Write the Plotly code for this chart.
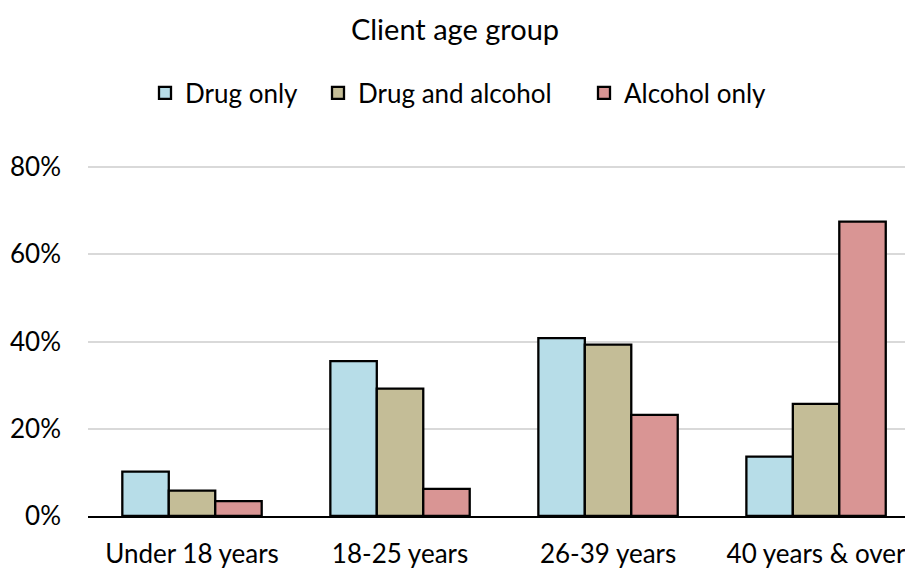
import plotly.graph_objects as go

categories = ["Under 18 years", "18-25 years", "26-39 years", "40 years & over"]
drug_only = [10.2, 35.5, 40.8, 13.6]
drug_and_alcohol = [5.8, 29.2, 39.3, 25.7]
alcohol_only = [3.4, 6.2, 23.2, 67.5]
series_names = ["Drug only", "Drug and alcohol", "Alcohol only"]
colors = ["#B7DDE8", "#C4BD97", "#D99594"]
y_ticks = [0, 20, 40, 60, 80]
y_tick_labels = ["0%", "20%", "40%", "60%", "80%"]

FONT = "Lato"
# page has an 8px body margin; figure is sized/offset to compensate
W, H = 905, 560
L, T, B = 80, 157, 52
plot_w = W - L

legend_ids = ["legend", "legend2", "legend3"]
legend_square_left = [150, 323, 589]  # figure px

fig = go.Figure()
for name, vals, col, lg in zip(series_names, [drug_only, drug_and_alcohol, alcohol_only], colors, legend_ids):
    fig.add_trace(go.Bar(
        name=name, x=categories, y=vals,
        marker=dict(color=col, line=dict(color="black", width=2.3)),
        legend=lg,
    ))

legend_common = dict(orientation="h", yanchor="middle", y=(H - B - 85) / (H - T - B),
                     xanchor="left", font=dict(family=FONT, size=26, color="black"),
                     itemwidth=30, bgcolor="rgba(0,0,0,0)")
legends = {}
for lg, sq in zip(legend_ids, legend_square_left):
    legends[lg] = dict(legend_common, x=(sq - 13 - L) / plot_w)

fig.update_layout(
    width=W, height=H,
    margin=dict(l=L, r=0, t=T, b=B, autoexpand=False),
    paper_bgcolor="white", plot_bgcolor="white",
    barmode="group", bargap=0.33, bargroupgap=0,
    font=dict(family=FONT, size=26, color="black"),
    title=dict(text="Client age group", x=(455 - 8) / W, xref="container", xanchor="center",
               y=1 - 22 / H, yref="container", yanchor="middle",
               font=dict(family=FONT, size=29, color="black")),
    showlegend=True,
    **legends,
)
fig.update_xaxes(
    range=[-0.5, 3.466], showgrid=False, showline=True, linecolor="black", linewidth=2.3,
    ticks="", tickfont=dict(family=FONT, size=26, color="black"), ticklabelstandoff=14,
    automargin=False,
)
fig.update_yaxes(
    range=[0, 80.5], tickmode="array", tickvals=y_ticks, ticktext=y_tick_labels,
    showgrid=True, gridcolor="#D9D9D9",
    gridwidth=2, zeroline=False, showline=False, ticks="",
    tickfont=dict(family=FONT, size=26, color="black"), ticklabelstandoff=26,
    automargin=False,
)
fig.write_html("out.html")
